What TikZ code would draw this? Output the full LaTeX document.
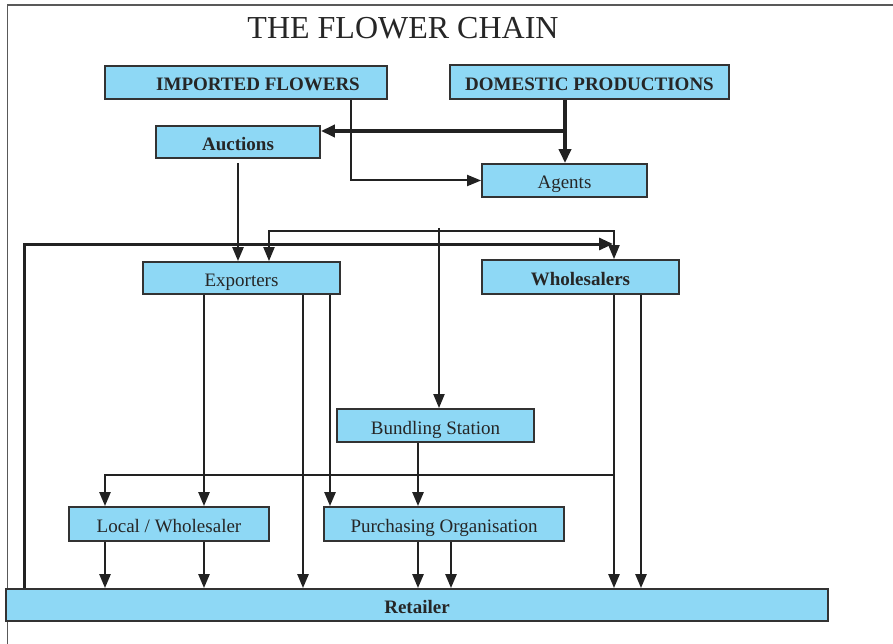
\documentclass[tikz,border=0pt]{standalone}
\usepackage{fontspec}
\setmainfont{Liberation Serif}
\usetikzlibrary{arrows.meta}
\definecolor{boxfill}{HTML}{8ED8F5}
\definecolor{boxline}{HTML}{333333}
\definecolor{lnc}{HTML}{222222}
\tikzset{
  box/.style={draw=boxline, line width=1.8pt, fill=boxfill, inner sep=0pt,
              text height=17pt, text depth=0pt,
              font=\fontsize{19}{22}\selectfont, text=black!85},
  bbox/.style={box, font=\fontsize{19}{22}\selectfont\bfseries},
  conn/.style={draw=lnc, line width=2.5pt, -{Triangle[length=14pt,width=11pt]}},
  thinconn/.style={conn, line width=2pt},
  heavyconn/.style={conn, line width=4pt, -{Triangle[length=14pt,width=12pt]}},
  midconn/.style={conn, line width=3pt, -{Triangle[length=14pt,width=12pt]}},
  frameline/.style={draw=black!65}
}
\begin{document}
\begin{tikzpicture}[x=1pt,y=-1pt]
\useasboundingbox (0,0) rectangle (893,644);
% frame
\draw[frameline, line width=2pt] (7,5) -- (893,5);
\draw[frameline, line width=1pt] (7,5) -- (7,644);
% title
\node[font=\fontsize{32}{36}\selectfont, text=black!85] (title) at (403,28) {THE FLOWER CHAIN};
% boxes
\node[bbox, minimum width=282pt, minimum height=33pt] (imp) at (246,82.5) {\hspace*{24pt}IMPORTED FLOWERS};
\node[bbox, minimum width=279pt, minimum height=34pt] (dom) at (589.5,82) {DOMESTIC PRODUCTIONS};
\node[bbox, minimum width=164pt, minimum height=32pt] (auc) at (238,142) {Auctions};
\node[box, minimum width=165pt, minimum height=33pt] (agt) at (564.5,180.5) {Agents};
\node[box, minimum width=197pt, minimum height=32pt] (exp) at (241.5,278) {Exporters};
\node[bbox, minimum width=197pt, minimum height=34pt] (whl) at (580.5,277) {Wholesalers};
\node[box, minimum width=197pt, minimum height=33pt] (bun) at (435.5,425.5) {Bundling Station};
\node[box, minimum width=200pt, minimum height=34pt] (loc) at (169,524) {Local / Wholesaler};
\node[box, minimum width=240pt, minimum height=34pt] (pur) at (444,524) {Purchasing Organisation};
\node[bbox, minimum width=822pt, minimum height=32pt] (ret) at (417,605) {Retailer};
% helper coordinates (columns and rows)
\coordinate (c24) at (24,0);
\coordinate (c105) at (105,0);
\coordinate (c204) at (204,0);
\coordinate (c269) at (269,0);
\coordinate (c303) at (303,0);
\coordinate (c330) at (330,0);
\coordinate (c351) at (351,0);
\coordinate (c418) at (418,0);
\coordinate (c439) at (439,0);
\coordinate (c451) at (451,0);
\coordinate (c565) at (565,0);
\coordinate (c614) at (614,0);
\coordinate (c641) at (641,0);
\coordinate (r131) at (0,131);
\coordinate (r163) at (0,163);
\coordinate (r228) at (0,228);
\coordinate (r231) at (0,231);
\coordinate (r244) at (0,244);
\coordinate (r475) at (0,475);
% imported -> agents
\draw[thinconn] (imp.south -| c351) |- (agt.west);
% domestic -> agents, auctions
\draw[heavyconn] (dom.south -| c565) -- (agt.north -| c565);
\draw[heavyconn] (c565 |- r131) -- (auc.east |- r131);
% auctions -> exporters
\draw[conn] (auc.south |- r163) -- (exp.north -| auc.south);
% loop between exporters and wholesalers
\draw[thinconn, {Triangle[length=14pt,width=11pt]}-{Triangle[length=14pt,width=11pt]}]
  (exp.north -| c269) |- (c614 |- r231) -- (whl.north -| c614);
\draw[thinconn] (c439 |- r228) -- (bun.north -| c439);
% retailer loop to wholesalers
\draw[midconn] (ret.north -| c24) |- ([xshift=-1pt]c614 |- r244);
% exporters down
\draw[conn] (exp.south -| c204) -- (loc.north -| c204);
\draw[conn] (exp.south -| c303) -- (ret.north -| c303);
\draw[conn] (exp.south -| c330) -- (pur.north -| c330);
% wholesalers down
\draw[conn] (whl.south -| c614) -- (ret.north -| c614);
\draw[conn] (whl.south -| c641) -- (ret.north -| c641);
\draw[conn] (c614 |- r475) -| (loc.north -| c105);
% bundling -> purchasing
\draw[conn] (bun.south -| c418) -- (pur.north -| c418);
% local -> retailer
\draw[conn] (loc.south -| c105) -- (ret.north -| c105);
\draw[conn] (loc.south -| c204) -- (ret.north -| c204);
% purchasing -> retailer
\draw[conn] (pur.south -| c418) -- (ret.north -| c418);
\draw[conn] (pur.south -| c451) -- (ret.north -| c451);
\end{tikzpicture}
\end{document}
